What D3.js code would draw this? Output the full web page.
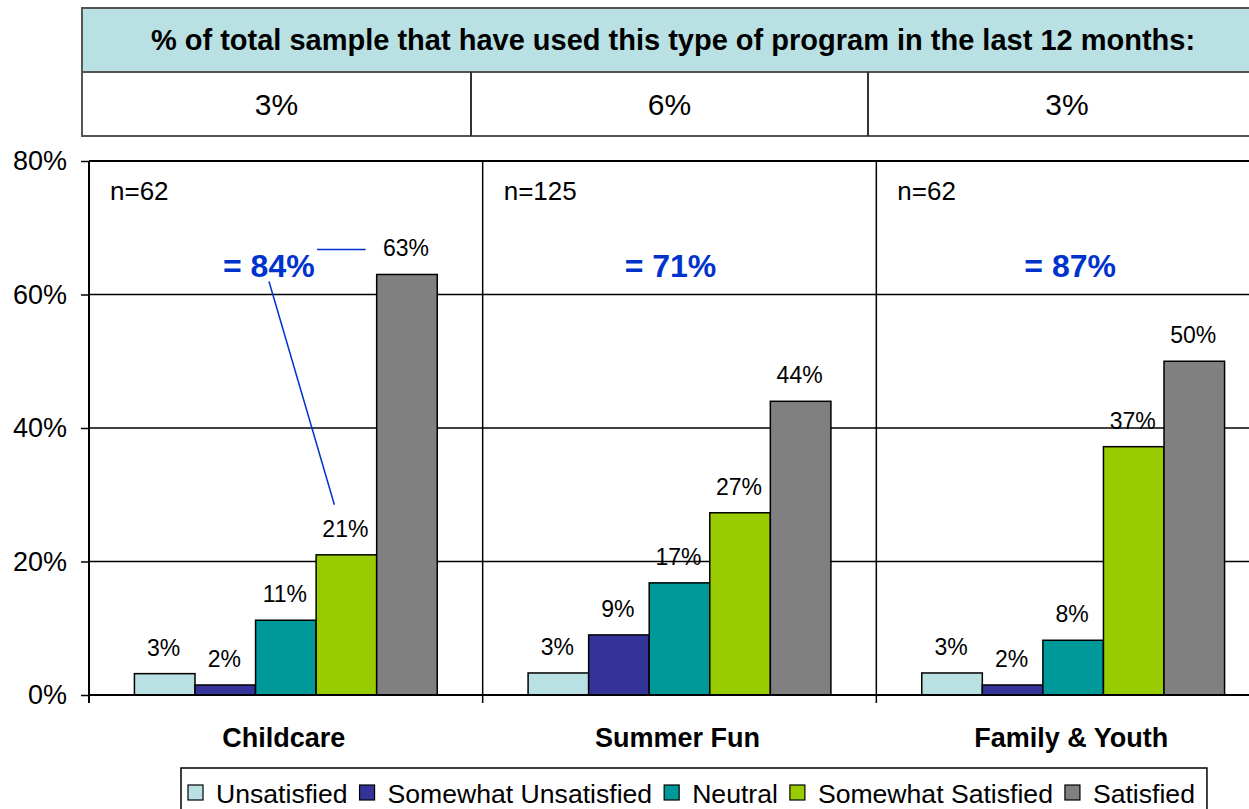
<!DOCTYPE html>
<html>
<head>
<meta charset="utf-8">
<script src="https://cdn.jsdelivr.net/npm/d3@7"></script>
<style>
  body { margin: 0; background: #fff; }
  text { font-family: "Liberation Sans", Arial, sans-serif; }
</style>
</head>
<body>
<div id="chart"></div>
<script>
// data
var categories = ["Childcare", "Summer Fun", "Family & Youth"];
var series = ["Unsatisfied", "Somewhat Unsatisfied", "Neutral", "Somewhat Satisfied", "Satisfied"];
var colors = ["#b9e0e2", "#333399", "#009999", "#99cc00", "#808080"];
var childcare = [3.2, 1.5, 11.2, 21.0, 63.0];
var summerFun = [3.3, 9.0, 16.8, 27.3, 44.0];
var familyYouth = [3.3, 1.5, 8.2, 37.2, 50.0];
var sampleSizes = ["n=62", "n=125", "n=62"];
var satisfiedTotals = ["= 84%", "= 71%", "= 87%"];
var usedPrograms = ["3%", "6%", "3%"];
var yTicks = [0, 20, 40, 60, 80];
var tableTitle = "% of total sample that have used this type of program in the last 12 months:";

var values = [childcare, summerFun, familyYouth];

var svgWidth = 1249;
var svgHeight = 809;

var svg = d3.select("#chart")
  .append("svg")
  .attr("width", svgWidth)
  .attr("height", svgHeight);

// ---- table on top
var tableX = [82, 471, 868, 1266];
var tableTop = 8, rowH = 64;

svg.append("rect")
  .attr("x", tableX[0]).attr("y", tableTop)
  .attr("width", tableX[3] - tableX[0]).attr("height", rowH)
  .attr("fill", "#b9e0e2").attr("stroke", "#555").attr("stroke-width", 2);

svg.append("rect")
  .attr("x", tableX[0]).attr("y", tableTop + rowH)
  .attr("width", tableX[3] - tableX[0]).attr("height", rowH)
  .attr("fill", "#fff").attr("stroke", "#555").attr("stroke-width", 2);

svg.append("text")
  .attr("x", 673).attr("y", tableTop + rowH / 2 + 10)
  .attr("text-anchor", "middle")
  .attr("font-size", 29).attr("font-weight", "bold")
  .text(tableTitle);

[1, 2].forEach(function(i) {
  svg.append("line")
    .attr("x1", tableX[i]).attr("x2", tableX[i])
    .attr("y1", tableTop + rowH).attr("y2", tableTop + 2 * rowH)
    .attr("stroke", "#333").attr("stroke-width", 2);
});

svg.selectAll(".used")
  .data(usedPrograms)
  .enter()
  .append("text")
    .attr("x", function(d, i) { return (tableX[i] + tableX[i + 1]) / 2; })
    .attr("y", tableTop + rowH * 1.5 + 11)
    .attr("text-anchor", "middle")
    .attr("font-size", 30)
    .text(function(d) { return d; });

// ---- bar chart
var plotLeft = 89, plotRight = 1270, plotTop = 161, plotBottom = 695;

var x0 = d3.scaleBand()
  .domain(categories)
  .range([plotLeft, plotRight]);

var x1 = d3.scaleBand()
  .domain(series)
  .range([0, x0.bandwidth()])
  .paddingOuter(0.75);

var y = d3.scaleLinear()
  .domain([0, 80])
  .range([plotBottom, plotTop]);

// gridlines
svg.selectAll(".grid")
  .data(yTicks.slice(1))
  .enter()
  .append("line")
    .attr("x1", plotLeft).attr("x2", svgWidth)
    .attr("y1", function(d) { return y(d); })
    .attr("y2", function(d) { return y(d); })
    .attr("stroke", "#000").attr("stroke-width", 1.5);

// category separators
svg.selectAll(".sep")
  .data(categories.slice(1))
  .enter()
  .append("line")
    .attr("x1", function(d) { return x0(d); })
    .attr("x2", function(d) { return x0(d); })
    .attr("y1", plotTop).attr("y2", plotBottom + 8)
    .attr("stroke", "#000").attr("stroke-width", 1.5);

// y axis
var leftAxis = d3.axisLeft(y)
  .tickValues(yTicks)
  .tickSize(8)
  .tickPadding(14)
  .tickFormat(function(d) { return d + "%"; });

var yAxis = svg.append("g")
  .attr("transform", "translate(" + plotLeft + ",0)")
  .call(leftAxis);
yAxis.select(".domain").remove();
yAxis.selectAll("line").attr("stroke", "#000").attr("stroke-width", 1.5);
yAxis.selectAll("text")
  .attr("font-size", 27)
  .attr("font-family", "Liberation Sans, Arial, sans-serif")
  .attr("fill", "#000");

svg.append("line")
  .attr("x1", plotLeft).attr("x2", plotLeft)
  .attr("y1", plotTop).attr("y2", plotBottom + 8)
  .attr("stroke", "#000").attr("stroke-width", 2);

// bars
var groups = svg.selectAll(".group")
  .data(categories)
  .enter()
  .append("g")
    .attr("transform", function(d) { return "translate(" + x0(d) + ",0)"; });

groups.selectAll("rect")
  .data(function(d, i) { return values[i].map(function(v, j) { return { s: series[j], v: v, c: colors[j] }; }); })
  .enter()
  .append("rect")
    .attr("x", function(d) { return x1(d.s); })
    .attr("y", function(d) { return y(d.v); })
    .attr("width", x1.bandwidth())
    .attr("height", function(d) { return plotBottom - y(d.v); })
    .attr("fill", function(d) { return d.c; })
    .attr("stroke", "#000").attr("stroke-width", 1.5);

groups.selectAll(".lbl")
  .data(function(d, i) { return values[i].map(function(v, j) { return { s: series[j], v: v }; }); })
  .enter()
  .append("text")
    .attr("x", function(d) { return x1(d.s) + x1.bandwidth() / 2 - 1; })
    .attr("y", function(d) { return y(d.v) - 18; })
    .attr("text-anchor", "middle")
    .attr("font-size", 23)
    .text(function(d) { return Math.round(d.v) + "%"; });

// n= labels
groups.append("text")
  .attr("x", 21)
  .attr("y", 200)
  .attr("font-size", 26)
  .text(function(d, i) { return sampleSizes[i]; });

// satisfied totals
groups.append("text")
  .attr("x", function(d, i) { return x0.bandwidth() / 2 + (i == 0 ? -17 : i == 1 ? -9 : -3); })
  .attr("y", 277)
  .attr("text-anchor", "middle")
  .attr("font-size", 32)
  .attr("font-weight", "bold")
  .attr("fill", "#0033cc")
  .text(function(d, i) { return satisfiedTotals[i]; });

// callout lines in childcare
var cc = x0("Childcare");
svg.append("line")
  .attr("x1", cc + 228).attr("x2", cc + x1("Satisfied") - 11)
  .attr("y1", y(childcare[4]) - 25).attr("y2", y(childcare[4]) - 25)
  .attr("stroke", "#0033cc").attr("stroke-width", 1.5);
svg.append("line")
  .attr("x1", cc + 180).attr("y1", y(childcare[4]) + 7)
  .attr("x2", cc + x1("Somewhat Satisfied") + x1.bandwidth() / 2 - 12)
  .attr("y2", y(childcare[3]) - 50)
  .attr("stroke", "#0033cc").attr("stroke-width", 1.5);

// x axis and top border
svg.append("line")
  .attr("x1", plotLeft).attr("x2", svgWidth)
  .attr("y1", plotBottom).attr("y2", plotBottom)
  .attr("stroke", "#000").attr("stroke-width", 2);
svg.append("line")
  .attr("x1", plotLeft).attr("x2", svgWidth)
  .attr("y1", plotTop).attr("y2", plotTop)
  .attr("stroke", "#000").attr("stroke-width", 2);

svg.selectAll(".cat")
  .data(categories)
  .enter()
  .append("text")
    .attr("x", function(d) { return x0(d) + x0.bandwidth() / 2 - 2; })
    .attr("y", 747)
    .attr("text-anchor", "middle")
    .attr("font-size", 27)
    .attr("font-weight", "bold")
    .text(function(d) { return d; });

// legend
var legend = svg.append("g");
var legendBox = legend.append("rect")
  .attr("x", 181).attr("y", 768)
  .attr("height", 50)
  .attr("fill", "#fff").attr("stroke", "#000").attr("stroke-width", 1.5);

var lx = 188;
series.forEach(function(s, i) {
  legend.append("rect")
    .attr("x", lx).attr("y", 785)
    .attr("width", 15).attr("height", 15)
    .attr("fill", colors[i]).attr("stroke", "#000").attr("stroke-width", 1.2);
  var t = legend.append("text")
    .attr("x", lx + 28).attr("y", 803)
    .attr("font-size", 26.6)
    .text(s);
  lx = lx + 28 + t.node().getComputedTextLength() + 12;
});
legendBox.attr("width", lx - 181);
</script>
</body>
</html>
